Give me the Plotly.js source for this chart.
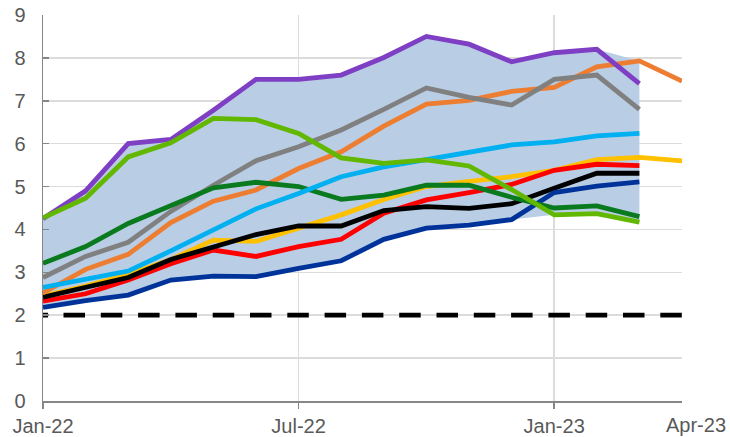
<!DOCTYPE html>
<html>
<head>
<meta charset="utf-8">
<script src="https://cdn.plot.ly/plotly-3.0.1.min.js"></script>
<style>
  html, body { margin: 0; padding: 0; background: #ffffff; }
  #chart { width: 730px; height: 437px; }
</style>
</head>
<body>
<div id="chart"></div>
<script>
// ---- Data ----
var months = ['Jan-22','Feb-22','Mar-22','Apr-22','May-22','Jun-22','Jul-22','Aug-22',
              'Sep-22','Oct-22','Nov-22','Dec-22','Jan-23','Feb-23','Mar-23','Apr-23'];

var xTickLabels = ['Jan-22', 'Jul-22', 'Jan-23'];
var lastLabel = 'Apr-23';

var purple     = [4.25, 4.90, 6.00, 6.10, 6.78, 7.50, 7.50, 7.60, 8.01, 8.50, 8.32, 7.91, 8.12, 8.20, 7.40, null];
var lightGreen = [4.27, 4.73, 5.69, 6.02, 6.59, 6.56, 6.24, 5.67, 5.54, 5.62, 5.48, 4.93, 4.34, 4.37, 4.17, null];
var gray       = [2.88, 3.37, 3.70, 4.42, 5.03, 5.60, 5.93, 6.32, 6.80, 7.30, 7.08, 6.90, 7.50, 7.60, 6.80, null];
var orange     = [2.52, 3.07, 3.42, 4.16, 4.66, 4.92, 5.42, 5.81, 6.41, 6.92, 7.01, 7.22, 7.31, 7.79, 7.93, 7.46];
var lightBlue  = [2.65, 2.84, 3.03, 3.50, 3.98, 4.48, 4.84, 5.23, 5.46, 5.63, 5.81, 5.97, 6.04, 6.18, 6.24, null];
var darkGreen  = [3.21, 3.60, 4.14, 4.56, 4.97, 5.10, 5.00, 4.70, 4.80, 5.03, 5.03, 4.75, 4.50, 4.55, 4.30, null];
var yellow     = [2.45, 2.68, 2.95, 3.30, 3.75, 3.72, 4.03, 4.34, 4.70, 5.00, 5.12, 5.23, 5.38, 5.63, 5.68, 5.60];
var red        = [2.33, 2.50, 2.82, 3.20, 3.52, 3.37, 3.60, 3.77, 4.38, 4.69, 4.86, 5.05, 5.38, 5.52, 5.49, null];
var black      = [2.42, 2.65, 2.88, 3.30, 3.60, 3.88, 4.08, 4.08, 4.44, 4.53, 4.49, 4.60, 4.96, 5.31, 5.31, null];
var darkBlue   = [2.18, 2.34, 2.47, 2.82, 2.91, 2.90, 3.09, 3.27, 3.77, 4.03, 4.10, 4.23, 4.86, 5.01, 5.11, null];

var target     = [2, 2, 2, 2, 2, 2, 2, 2, 2, 2, 2, 2, 2, 2, 2, 2];

// ---- Range band: min / max over all series for months where all are present ----
var allSeries = [purple, lightGreen, gray, orange, lightBlue, darkGreen, yellow, red, black, darkBlue];
var bandX = [], bandMax = [], bandMin = [];
for (var i = 0; i < months.length; i++) {
  var vals = allSeries.map(function (s) { return s[i]; }).filter(function (v) { return v !== null; });
  if (vals.length === allSeries.length) {
    bandX.push(months[i]);
    bandMax.push(Math.max.apply(null, vals));
    bandMin.push(Math.min.apply(null, vals));
  }
}

function line(y, color) {
  return {
    type: 'scatter', mode: 'lines', x: months, y: y,
    line: { color: color, width: 4.8 },
    connectgaps: false, hoverinfo: 'skip', showlegend: false
  };
}

var bandColor = '#B9CDE5';
var traces = [
  { type: 'scatter', mode: 'lines', x: bandX, y: bandMin, line: { width: 0, color: bandColor },
    hoverinfo: 'skip', showlegend: false },
  { type: 'scatter', mode: 'lines', x: bandX, y: bandMax, line: { width: 0, color: bandColor },
    fill: 'tonexty', fillcolor: bandColor, hoverinfo: 'skip', showlegend: false },
  { type: 'scatter', mode: 'lines', x: months, y: target,
    line: { color: '#000000', width: 4.8,
            dash: '5px,15.5px,21.5px,15.8px,21.5px,15.8px,21.5px,15.8px,21.5px,15.8px,21.5px,15.8px,21.5px,15.8px,21.5px,15.8px,21.5px,15.8px,21.5px,15.8px,21.5px,15.8px,21.5px,15.8px,21.5px,15.8px,21.5px,15.8px,21.5px,15.8px,21.5px,15.8px,21.5px,15.8px,21.5px,200px' },
    hoverinfo: 'skip', showlegend: false },
  line(yellow, '#FFC000'),
  line(red, '#FF0000'),
  line(black, '#000000'),
  line(darkBlue, '#003399'),
  line(orange, '#ED7D31'),
  line(gray, '#808080'),
  line(darkGreen, '#0A7A1E'),
  line(lightBlue, '#00B0F0'),
  line(purple, '#7E3FC4'),
  line(lightGreen, '#62B800')
];

var tickFont = { family: 'Liberation Sans, Arial, sans-serif', size: 20, color: '#595959' };

var layout = {
  width: 730, height: 437,
  margin: { l: 43, r: 48, t: 15, b: 36 },
  paper_bgcolor: '#ffffff', plot_bgcolor: '#ffffff',
  showlegend: false,
  xaxis: {
    type: 'category', categoryorder: 'array', categoryarray: months,
    range: [0, months.length - 1],
    tickmode: 'array', tickvals: xTickLabels, ticktext: xTickLabels,
    ticks: 'outside', ticklen: 6, tickwidth: 1.5, tickcolor: '#868686',
    showgrid: true, gridcolor: '#DCDCDC', gridwidth: 1.5,
    showline: true, linecolor: '#868686', linewidth: 1.5,
    zeroline: false, tickfont: tickFont, fixedrange: true
  },
  yaxis: {
    range: [0, 9], dtick: 1, tick0: 0,
    ticks: 'inside', ticklen: 6, tickwidth: 1.5, tickcolor: '#868686',
    showgrid: true, gridcolor: '#DCDCDC', gridwidth: 1.5,
    showline: true, linecolor: '#868686', linewidth: 1.5,
    zeroline: false, tickfont: tickFont, ticklabelstandoff: 12, fixedrange: true
  },
  annotations: [{
    xref: 'x', yref: 'paper', x: months.length - 1, y: 0,
    xanchor: 'center', yanchor: 'top', xshift: 14, yshift: -11,
    text: lastLabel, showarrow: false, font: tickFont
  }]
};

Plotly.newPlot('chart', traces, layout, { staticPlot: true, displayModeBar: false });
</script>
</body>
</html>
